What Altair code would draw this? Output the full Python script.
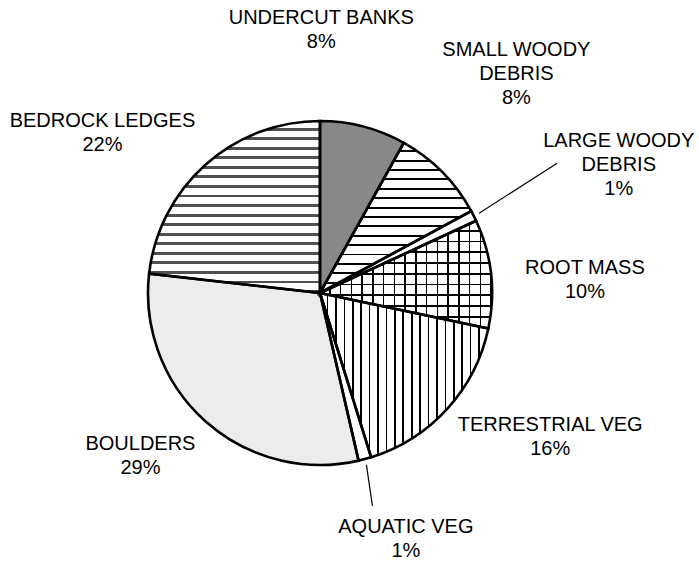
import altair as alt
import pandas as pd

# ---- data -------------------------------------------------------------
categories = ["UNDERCUT BANKS", "SMALL WOODY DEBRIS", "LARGE WOODY DEBRIS", "ROOT MASS",
              "TERRESTRIAL VEG", "AQUATIC VEG", "BOULDERS", "BEDROCK LEDGES"]
values = [8.1, 9.0, 1.0, 10.2, 16.9, 1.2, 30.4, 23.2]
labels = ["UNDERCUT BANKS\n8%", "SMALL WOODY\nDEBRIS\n8%", "LARGE WOODY\nDEBRIS\n1%",
          "ROOT MASS\n10%", "TERRESTRIAL VEG\n16%", "AQUATIC VEG\n1%",
          "BOULDERS\n29%", "BEDROCK LEDGES\n22%"]

# ---- layout (label nudges from the slice's outer edge, leader lines) ---
label_dx = [-42, 74, 145, 94, 103, 41, -65, -103]
label_dy = [-97, -98, -51, 6, 28, 80, 35, -32]
leader_dx = [0, 0, 78, 0, 0, 6, 0, 0]
leader_dy = [0, 0, -50, 0, 0, 41, 0, 0]

CX, CY, R = 320, 293, 172
LH = 24

df = pd.DataFrame({
    "order": list(range(len(categories))),
    "cat": categories,
    "value": values,
    "label": labels,
    "ldx": label_dx,
    "ldy": label_dy,
    "kdx": leader_dx,
    "kdy": leader_dy,
})


def stripes(n, frac, color, bg, vertical=False):
    stops = []
    for k in range(n):
        a = k / n
        m = (k + 1 - frac) / n
        b = (k + 1) / n
        stops += [alt.GradientStop(offset=a, color=bg),
                  alt.GradientStop(offset=m, color=bg),
                  alt.GradientStop(offset=m, color=color),
                  alt.GradientStop(offset=b, color=color)]
    if vertical:
        return alt.LinearGradient(gradient="linear", stops=stops, x1=0, y1=0, x2=1, y2=0)
    return alt.LinearGradient(gradient="linear", stops=stops, x1=0, y1=0, x2=0, y2=1)


base = (
    alt.Chart(df)
    .transform_window(cum="sum(value)", frame=[None, 0], sort=[alt.SortField("order")])
    .transform_joinaggregate(total="sum(value)")
    .transform_calculate(
        t1="2*PI*datum.cum/datum.total",
        t0="2*PI*(datum.cum-datum.value)/datum.total",
    )
    .transform_calculate(tm="(datum.t0+datum.t1)/2")
)

arc_enc = dict(
    theta=alt.Theta("t0:Q", scale=None),
    theta2=alt.Theta2("t1:Q"),
    x=alt.value(CX),
    y=alt.value(CY),
)

fills = {
    0: ["#888888"],
    1: [stripes(16, 0.2, "black", "white")],
    2: ["white"],
    3: [stripes(10, 0.16, "black", "white"),
        stripes(16, 0.16, "black", "rgba(255,255,255,0)", vertical=True)],
    4: [stripes(20, 0.2, "black", "white", vertical=True)],
    5: ["white"],
    6: ["#ececec"],
    7: [stripes(18, 0.3, "#505050", "white")],
}

layers = []
for i, flist in fills.items():
    for f in flist:
        layers.append(
            base.transform_filter(f"datum.order == {i}")
            .mark_arc(outerRadius=R, fill=f, strokeWidth=0)
            .encode(**arc_enc)
        )

outline = base.mark_arc(outerRadius=R, fill=None, stroke="black", strokeWidth=2.6,
                        strokeJoin="miter").encode(**arc_enc)
layers.append(outline)

leaders = (
    base.transform_filter("datum.kdx != 0 || datum.kdy != 0")
    .transform_calculate(
        x1=f"{CX} + {R + 6}*sin(datum.tm)",
        y1=f"{CY} - {R + 6}*cos(datum.tm)",
    )
    .transform_calculate(x2="datum.x1 + datum.kdx", y2="datum.y1 + datum.kdy")
    .mark_rule(color="black", strokeWidth=1.2)
    .encode(
        x=alt.X("x1:Q", scale=None, axis=None),
        y=alt.Y("y1:Q", scale=None, axis=None),
        x2="x2:Q",
        y2="y2:Q",
    )
)
layers.append(leaders)

texts = (
    base.transform_calculate(
        nl="length(split(datum.label, '\\n'))",
        lx=f"{CX} + {R}*sin(datum.tm) + datum.ldx",
    )
    .transform_calculate(
        ly=f"{CY} - {R}*cos(datum.tm) + datum.ldy - (datum.nl - 1)*{LH}/2",
    )
    .mark_text(lineBreak="\n", align="center", baseline="middle", fontSize=20,
               lineHeight=LH, font="Liberation Sans", color="black")
    .encode(
        x=alt.X("lx:Q", scale=None, axis=None),
        y=alt.Y("ly:Q", scale=None, axis=None),
        text="label:N",
    )
)
layers.append(texts)

chart = (
    alt.layer(*layers)
    .properties(width=699, height=564, padding=0, autosize="none", background="white")
    .configure_view(stroke=None)
)

chart.save("out.html", embed_options={"renderer": "svg", "actions": False})
